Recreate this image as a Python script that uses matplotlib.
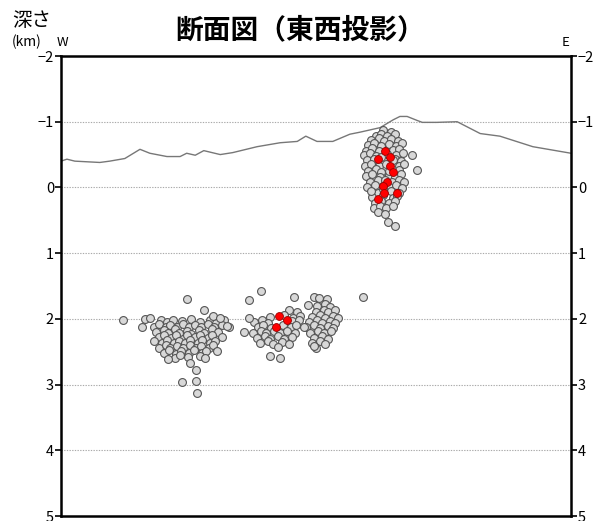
import matplotlib
matplotlib.use("Agg")
import matplotlib.pyplot as plt

plt.rcParams['font.family'] = ['Noto Sans CJK JP', 'DejaVu Sans']

# === Data (x: km from west edge, depth: km) ===

topo_x = [0.00, 0.09, 0.21, 0.59, 0.74, 0.97, 1.20, 1.35, 1.61, 1.81, 1.91, 2.04,
          2.17, 2.42, 2.61, 2.98, 3.33, 3.59, 3.72, 3.89, 4.13, 4.39, 4.54, 4.85,
          5.05, 5.15, 5.26, 5.41, 5.49, 5.71, 6.02, 6.37, 6.67, 7.17, 7.75]
topo_depth = [-0.40, -0.43, -0.40, -0.38, -0.40, -0.44, -0.58, -0.52, -0.47, -0.47, -0.52, -0.49,
              -0.56, -0.50, -0.53, -0.62, -0.68, -0.70, -0.78, -0.70, -0.70, -0.81, -0.84, -0.91,
              -1.03, -1.08, -1.08, -1.02, -0.99, -0.99, -1.00, -0.82, -0.78, -0.62, -0.52]

# east (shallow) cluster
east_gray = [
    (4.89, -0.88), (5.01, -0.85),
    (4.78, -0.79), (4.87, -0.82), (4.96, -0.78), (5.07, -0.81),
    (4.71, -0.72), (4.83, -0.75), (4.91, -0.71), (5.02, -0.74), (5.12, -0.70),
    (4.67, -0.64), (4.76, -0.67), (4.87, -0.63), (4.98, -0.66), (5.09, -0.63), (5.18, -0.67),
    (4.64, -0.56), (4.73, -0.60), (4.83, -0.55), (5.04, -0.57), (5.14, -0.59),
    (4.61, -0.49), (4.70, -0.52), (4.79, -0.48), (4.95, -0.51), (5.09, -0.49), (5.19, -0.52),
    (4.65, -0.41), (4.76, -0.44), (4.91, -0.40), (5.07, -0.43), (5.16, -0.40),
    (4.62, -0.33), (4.71, -0.36), (4.83, -0.32), (4.94, -0.35), (5.13, -0.33), (5.21, -0.36),
    (4.67, -0.25), (4.79, -0.28), (4.87, -0.24), (5.14, -0.27),
    (4.63, -0.17), (4.73, -0.20), (4.84, -0.16), (4.98, -0.19), (5.07, -0.16), (5.17, -0.20),
    (4.69, -0.09), (4.81, -0.12), (5.03, -0.08), (5.14, -0.11), (5.21, -0.08),
    (4.65, -0.01), (4.77, -0.04), (4.99, 0.00), (5.09, -0.03), (5.18, 0.01),
    (4.81, 0.08), (5.01, 0.05), (5.14, 0.08),
    (4.73, 0.15), (4.89, 0.12), (5.04, 0.16), (5.11, 0.13),
    (4.77, 0.23), (4.87, 0.20), (4.99, 0.24), (5.07, 0.21),
    (4.75, 0.31), (4.85, 0.28), (4.94, 0.32), (5.05, 0.29),
    (4.81, 0.38), (4.92, 0.40),
    (4.86, -0.46), (4.99, -0.25), (4.92, -0.12), (5.04, -0.42), (4.90, 0.02),
    (5.33, -0.49), (5.41, -0.26), (4.71, 0.05), (4.97, 0.52), (5.08, 0.58),
]
east_red = [
    (4.92, -0.55), (5.00, -0.47), (4.82, -0.43), (5.00, -0.33), (5.05, -0.24),
    (4.95, -0.09), (4.89, -0.02), (4.91, 0.09), (5.11, 0.09), (4.82, 0.17),
]

# west (deep) cluster
west_gray = [
    (1.52, 2.01), (1.61, 2.05), (1.70, 2.02), (1.84, 2.04), (1.98, 2.00), (2.11, 2.05),
    (2.27, 2.01), (2.36, 2.06), (2.47, 2.02),
    (1.41, 2.12), (1.49, 2.08), (1.59, 2.13), (1.66, 2.09), (1.77, 2.12), (1.86, 2.08),
    (1.94, 2.13), (2.04, 2.09), (2.13, 2.12), (2.23, 2.08), (2.33, 2.13), (2.44, 2.09), (2.56, 2.12),
    (1.45, 2.20), (1.56, 2.17), (1.62, 2.22), (1.73, 2.16), (1.79, 2.21), (1.91, 2.18),
    (1.98, 2.23), (2.09, 2.17), (2.17, 2.21), (2.29, 2.16), (2.39, 2.20),
    (1.49, 2.28), (1.56, 2.24), (1.67, 2.29), (1.74, 2.25), (1.85, 2.30), (1.92, 2.24),
    (2.03, 2.28), (2.11, 2.25), (2.23, 2.29), (2.30, 2.24), (2.45, 2.27),
    (1.42, 2.33), (1.53, 2.37), (1.61, 2.32), (1.71, 2.36), (1.79, 2.33), (1.89, 2.37),
    (1.96, 2.32), (2.08, 2.36), (2.15, 2.32), (2.27, 2.37), (2.34, 2.33),
    (1.49, 2.44), (1.59, 2.40), (1.66, 2.45), (1.77, 2.41), (1.85, 2.45), (1.96, 2.40),
    (2.05, 2.44), (2.13, 2.41), (2.25, 2.44), (2.31, 2.40),
    (1.56, 2.52), (1.64, 2.48), (1.75, 2.53), (1.83, 2.49), (1.95, 2.52), (2.02, 2.48),
    (2.14, 2.52), (2.21, 2.49),
    (1.73, 2.59), (1.81, 2.55), (1.93, 2.58), (2.11, 2.56), (2.19, 2.60),
    (0.94, 2.02), (1.91, 1.70), (2.17, 1.87), (1.28, 2.00), (1.35, 1.99), (1.23, 2.13),
    (2.31, 1.96), (2.42, 1.98), (2.52, 2.11), (2.37, 2.49), (1.96, 2.67), (2.05, 2.78),
    (1.84, 2.96), (2.05, 2.95), (2.07, 3.13), (1.63, 2.61),
]

# middle cluster
mid_gray = [
    (3.46, 1.87), (3.58, 1.90),
    (3.17, 1.97), (3.39, 1.94), (3.52, 1.98), (3.63, 1.95),
    (2.94, 2.05), (3.06, 2.02), (3.14, 2.06), (3.51, 2.04), (3.61, 2.01),
    (2.99, 2.13), (3.07, 2.10), (3.19, 2.14), (3.37, 2.10), (3.49, 2.13), (3.57, 2.10),
    (2.92, 2.21), (3.04, 2.18), (3.12, 2.22), (3.24, 2.18), (3.33, 2.22), (3.44, 2.19), (3.55, 2.22),
    (2.98, 2.29), (3.10, 2.26), (3.18, 2.30), (3.30, 2.26), (3.39, 2.30), (3.51, 2.27),
    (3.02, 2.37), (3.14, 2.34), (3.22, 2.38), (3.36, 2.35), (3.46, 2.38),
    (3.04, 1.58), (2.86, 1.72), (3.54, 1.67), (2.86, 1.98), (2.78, 2.20),
    (3.18, 2.57), (3.33, 2.60), (3.30, 2.43),
]
mid_red = [(3.31, 1.96), (3.43, 2.02), (3.27, 2.13)]

# middle-east deep cluster
mideast_gray = [
    (3.94, 1.73), (4.04, 1.70),
    (3.89, 1.81), (4.01, 1.78), (4.09, 1.82),
    (3.87, 1.89), (3.99, 1.86), (4.06, 1.90), (4.17, 1.87),
    (3.82, 1.97), (3.94, 1.94), (4.01, 1.98), (4.13, 1.95), (4.21, 1.98),
    (3.77, 2.05), (3.89, 2.02), (3.96, 2.06), (4.09, 2.03), (4.16, 2.06),
    (3.73, 2.13), (3.85, 2.10), (3.93, 2.14), (4.05, 2.11), (4.13, 2.14),
    (3.79, 2.21), (3.91, 2.18), (3.99, 2.22), (4.11, 2.19),
    (3.85, 2.29), (3.97, 2.26), (4.05, 2.30),
    (3.81, 2.37), (3.93, 2.34), (4.01, 2.38),
    (3.87, 2.45),
    (3.75, 1.79), (3.85, 1.66), (3.92, 1.69), (4.59, 1.67), (3.85, 2.42), (3.70, 2.13),
]

depth_ticks = [-2, -1, 0, 1, 2, 3, 4, 5]
depth_labels = ["−2", "−1", "0", "1", "2", "3", "4", "5"]
grid_depths = [-1, 0, 1, 2, 3, 4]

# === Plot ===

fig = plt.figure(figsize=(5.97, 5.21), dpi=100)
ax = fig.add_axes([61 / 597, 1 - 516 / 521, 510 / 597, 460 / 521])

for d in grid_depths:
    ax.axhline(d, color="#aaaaaa", linestyle=(0, (1.2, 1.2)), linewidth=0.8, zorder=1)

ax.plot(topo_x, topo_depth, color="#777777", linewidth=1.0, zorder=2)

gray_pts = east_gray + west_gray + mid_gray + mideast_gray
red_pts = east_red + mid_red

gx, gy = zip(*gray_pts)
ax.scatter(gx, gy, s=32, facecolor="#d8d8d8", edgecolor="#555555", linewidth=0.8, zorder=3)
rx, ry = zip(*red_pts)
ax.scatter(rx, ry, s=32, facecolor="#ff0000", edgecolor="#990000", linewidth=0.6, zorder=4)

ax.set_xlim(0, 7.75)
ax.set_ylim(5, -2)
ax.set_xticks([])
ax.set_yticks(depth_ticks)
ax.set_yticklabels(depth_labels)
ax.tick_params(axis="y", which="both", left=True, right=True, labelleft=True, labelright=True,
               direction="out", length=4, width=1.2, labelsize=10.5, pad=1)

for sp in ax.spines.values():
    sp.set_linewidth(1.8)
    sp.set_color("black")

fig.text(12 / 597, 1 - 20 / 521, "深さ", fontsize=14, ha="left", va="center")
fig.text(12 / 597, 1 - 42 / 521, "(km)", fontsize=10, ha="left", va="center")
fig.text(62 / 597, 1 - 42 / 521, "W", fontsize=9.5, ha="center", va="center")
fig.text(566 / 597, 1 - 42 / 521, "E", fontsize=9.5, ha="center", va="center")
fig.text(300 / 597, 1 - 30 / 521, "断面図（東西投影）", fontsize=20, fontweight="bold",
         ha="center", va="center")

fig.savefig("out.png", dpi=100)
